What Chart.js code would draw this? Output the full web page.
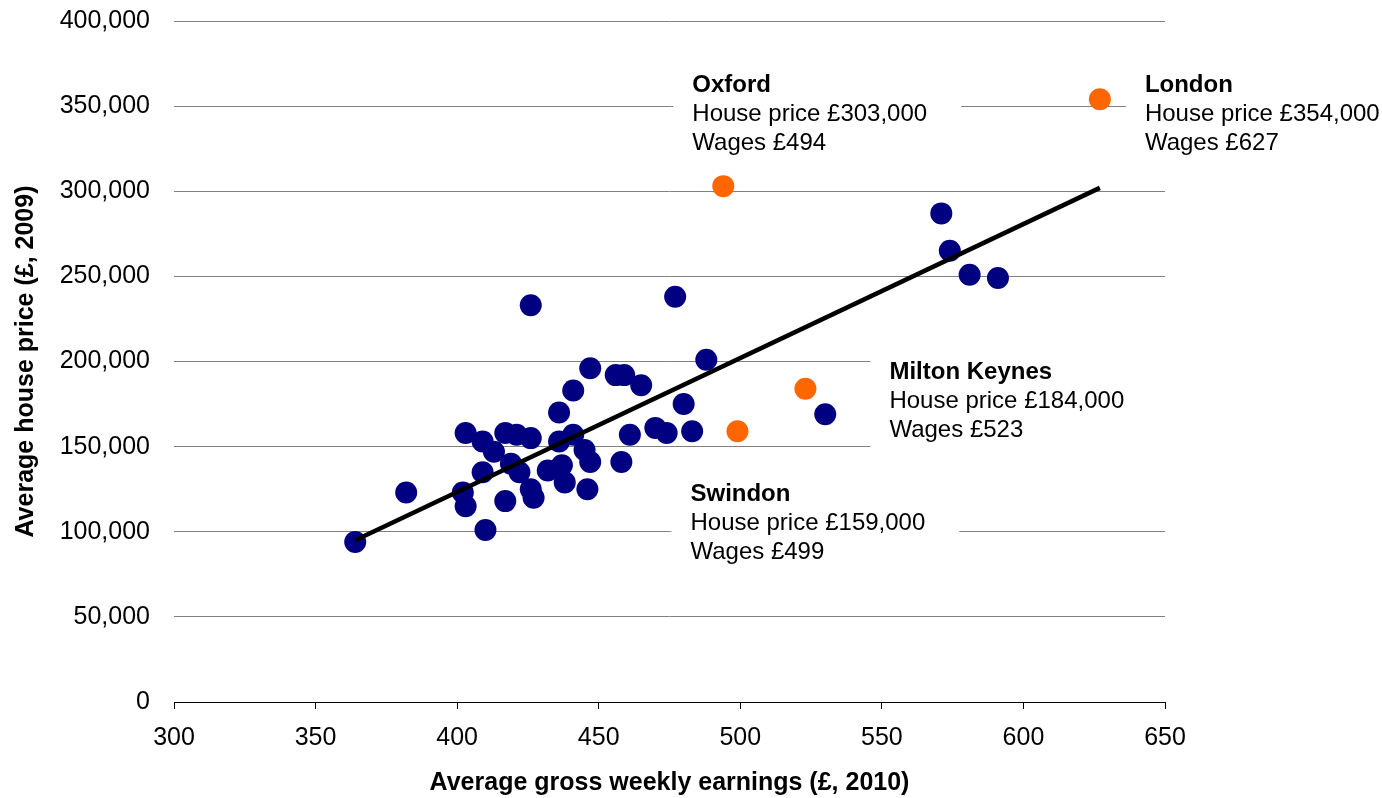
<!DOCTYPE html>
<html>
<head>
<meta charset="utf-8">
<script src="https://cdn.jsdelivr.net/npm/chart.js@4/dist/chart.umd.min.js"></script>
<style>
  html, body { margin: 0; padding: 0; background: #ffffff; }
  #wrap { width: 1382px; height: 798px; }
</style>
</head>
<body>
<div id="wrap"><canvas id="c" width="1382" height="798"></canvas></div>
<script>
// ---- Data ----
const townWages = [364, 382, 402, 403, 403, 409, 409, 410, 413, 417, 417, 419, 421, 422, 426, 426, 427, 426, 432, 436, 436, 437, 438, 441, 441, 445, 447, 447, 446, 456, 459, 458, 461, 465, 470, 474, 477, 480, 483, 488, 530, 571, 574, 581, 591];
const townPrices = [94000, 123000, 123000, 115000, 158000, 153000, 135000, 101000, 147000, 118000, 158000, 140000, 157000, 135000, 155000, 125000, 120000, 233000, 136000, 153000, 170000, 139000, 129000, 157000, 183000, 148000, 196000, 141000, 125000, 192000, 192000, 141000, 157000, 186000, 161000, 158000, 238000, 175000, 159000, 201000, 169000, 287000, 265000, 251000, 249000];

const highlightNames = ["Oxford", "London", "Milton Keynes", "Swindon"];
const highlightWages = [494, 627, 523, 499];
const highlightPrices = [303000, 354000, 184000, 159000];

const trendWages = [364, 627];
const trendPrices = [95000, 302000];

const xTicks = [300, 350, 400, 450, 500, 550, 600, 650];
const yTicks = [0, 50000, 100000, 150000, 200000, 250000, 300000, 350000, 400000];

// ---- Label placement (pixel offsets from each highlighted point) ----
const labelOffsets = {
  "Oxford":        { dx: -31, dy: -101, toEdge: false },
  "London":        { dx: 45,  dy: -14,  toEdge: true },
  "Milton Keynes": { dx: 84,  dy: -16,  toEdge: true },
  "Swindon":       { dx: -47, dy: 63,   toEdge: false }
};

const FONT = "'Liberation Sans', Arial, Helvetica, sans-serif";

const labelPlugin = {
  id: 'calloutLabels',
  beforeDatasetsDraw(chart) {
    const ctx = chart.ctx;
    const xs = chart.scales.x, ys = chart.scales.y;
    const lh = 29;
    ctx.save();
    highlightNames.forEach((name, i) => {
      const px = xs.getPixelForValue(highlightWages[i]);
      const py = ys.getPixelForValue(highlightPrices[i]);
      const off = labelOffsets[name];
      const tx = px + off.dx;
      const ty = py + off.dy;
      const lines = [
        name,
        'House price £' + highlightPrices[i].toLocaleString('en-US'),
        'Wages £' + highlightWages[i]
      ];
      let w = 0;
      lines.forEach((t, k) => {
        ctx.font = (k === 0 ? 'bold ' : '') + '24px ' + FONT;
        w = Math.max(w, ctx.measureText(t).width);
      });
      let boxW = w + 53;
      if (off.toEdge) boxW = Math.max(boxW, chart.width - (tx - 19));
      ctx.fillStyle = '#ffffff';
      ctx.fillRect(tx - 19, ty - 20, boxW, lh * 2 + 40);
      ctx.fillStyle = '#000000';
      ctx.textBaseline = 'middle';
      ctx.textAlign = 'left';
      lines.forEach((t, k) => {
        ctx.font = (k === 0 ? 'bold ' : '') + '24px ' + FONT;
        ctx.fillText(t, tx, ty + k * lh);
      });
    });
    ctx.restore();
  }
};

const townPoints = townWages.map((x, i) => ({ x, y: townPrices[i] }));
const highlightPoints = highlightWages.map((x, i) => ({ x, y: highlightPrices[i] }));
const trendPoints = trendWages.map((x, i) => ({ x, y: trendPrices[i] }));

new Chart(document.getElementById('c'), {
  type: 'scatter',
  data: {
    datasets: [
      {
        label: 'Trend',
        type: 'line',
        data: trendPoints,
        borderColor: '#000000',
        borderWidth: 4.5,
        pointRadius: 0,
        fill: false,
        order: 0
      },
      {
        label: 'Highlighted towns',
        data: highlightPoints,
        backgroundColor: '#FF6600',
        borderColor: '#FF6600',
        borderWidth: 0,
        pointRadius: 11,
        order: 1
      },
      {
        label: 'Towns',
        data: townPoints,
        backgroundColor: '#000080',
        borderColor: '#000080',
        borderWidth: 0,
        pointRadius: 11,
        order: 2
      }
    ]
  },
  options: {
    responsive: false,
    devicePixelRatio: 1,
    animation: false,
    layout: { padding: { left: 0, right: 217, top: 21, bottom: 0 } },
    plugins: {
      legend: { display: false },
      tooltip: { enabled: false }
    },
    scales: {
      x: {
        type: 'linear',
        min: 300,
        max: 650,
        afterFit(scale) {
          scale.height = 96;
          scale.paddingLeft = 0;
          scale.paddingRight = 0;
        },
        afterBuildTicks(scale) { scale.ticks = xTicks.map(v => ({ value: v })); },
        grid: {
          drawOnChartArea: false,
          drawTicks: true,
          tickLength: 7,
          color: '#000000',
          lineWidth: 1
        },
        border: { display: true, color: '#000000', width: 1 },
        ticks: {
          padding: 14,
          color: '#000000',
          font: { family: FONT, size: 25 },
          maxRotation: 0,
          callback: v => String(v)
        },
        title: {
          display: true,
          text: 'Average gross weekly earnings (£, 2010)',
          color: '#000000',
          font: { family: FONT, size: 25, weight: 'bold' },
          padding: { top: 0, bottom: 0 }
        }
      },
      y: {
        type: 'linear',
        min: 0,
        max: 400000,
        afterFit(scale) {
          scale.width = 174;
          scale.paddingTop = 0;
          scale.paddingBottom = 0;
        },
        afterBuildTicks(scale) { scale.ticks = yTicks.map(v => ({ value: v })); },
        grid: {
          drawTicks: false,
          color: ctx => (ctx.tick && ctx.tick.value === 0) ? '#000000' : '#808080',
          lineWidth: 1
        },
        border: { display: false },
        ticks: {
          padding: 24,
          color: '#000000',
          font: { family: FONT, size: 25 },
          callback: v => Number(v).toLocaleString('en-US')
        },
        title: {
          display: true,
          text: 'Average house price (£, 2009)',
          color: '#000000',
          font: { family: FONT, size: 25, weight: 'bold' },
          padding: { top: 11, bottom: 0 }
        }
      }
    }
  },
  plugins: [labelPlugin]
});
</script>
</body>
</html>
